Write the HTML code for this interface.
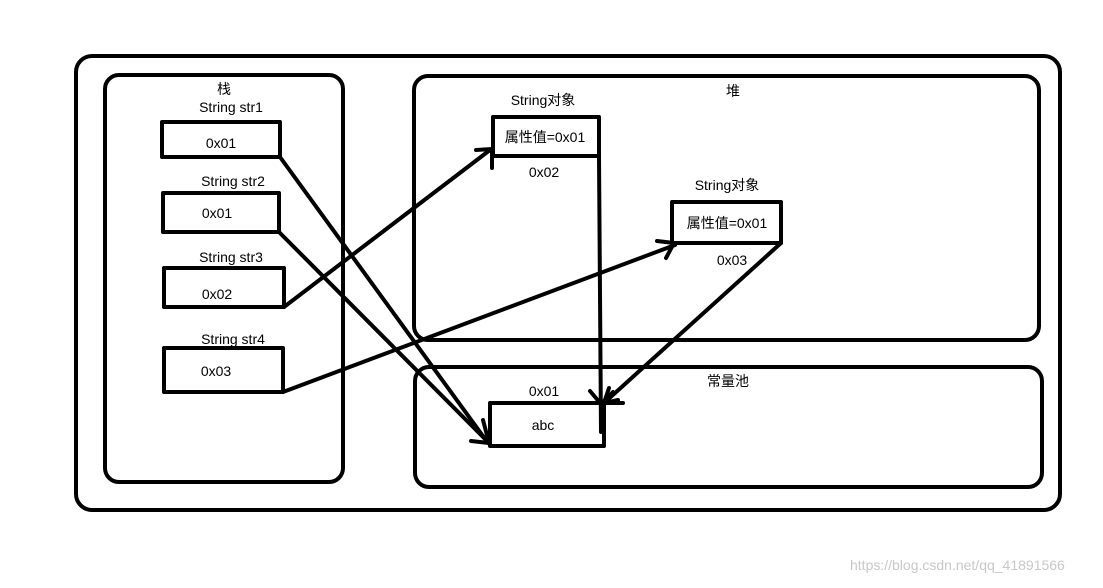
<!DOCTYPE html>
<html><head><meta charset="utf-8"><style>
html,body{margin:0;padding:0;background:#fff;}
svg text{font-family:"Liberation Sans","Noto Sans CJK SC",sans-serif;font-size:14px;fill:#000;}
</style></head><body>
<svg width="1103" height="583" viewBox="0 0 1103 583" xmlns="http://www.w3.org/2000/svg">
<g fill="none" stroke="#000" stroke-width="4" stroke-linecap="round" stroke-linejoin="round">
<rect x="76" y="56" width="984" height="454" rx="16"/>
<rect x="105" y="75" width="238" height="407" rx="14"/>
<rect x="414" y="76" width="625" height="264" rx="14"/>
<rect x="415" y="367" width="627" height="120" rx="14"/>
<rect x="162" y="122" width="118" height="35"/>
<rect x="163" y="193" width="116" height="39"/>
<rect x="164" y="268" width="120" height="39"/>
<rect x="164" y="348" width="119" height="44"/>
<rect x="493" y="117" width="106" height="39"/>
<rect x="672" y="202" width="109" height="41"/>
<rect x="490" y="403" width="114" height="43"/>
<line x1="604" y1="403" x2="623" y2="403"/>
<line x1="280" y1="157" x2="488" y2="443"/>
<line x1="279" y1="232" x2="489" y2="443"/>
<line x1="483" y1="420" x2="489" y2="443"/>
<line x1="471" y1="441" x2="489" y2="443"/>
<line x1="284" y1="307" x2="490" y2="150"/>
<polyline points="476,150 492,149 492,168"/>
<line x1="283" y1="392" x2="675" y2="245"/>
<polyline points="657,241 674,243 666,258"/>
<line x1="599" y1="157" x2="601" y2="432"/>
<polyline points="590,391 601,404 613,392"/>
<line x1="781" y1="243" x2="604" y2="403"/>
<polyline points="609,388 604,403 618,400"/>
</g>
<g text-anchor="middle">
<text x="224" y="94">栈</text>
<text x="231" y="112">String str1</text>
<text x="221" y="148">0x01</text>
<text x="233" y="186">String str2</text>
<text x="217" y="218">0x01</text>
<text x="231" y="262">String str3</text>
<text x="217" y="299">0x02</text>
<text x="233" y="344">String str4</text>
<text x="216" y="376">0x03</text>
<text x="733" y="96">堆</text>
<text x="543" y="105">String对象</text>
<text x="545" y="142">属性值=0x01</text>
<text x="544" y="177">0x02</text>
<text x="727" y="190">String对象</text>
<text x="727" y="228">属性值=0x01</text>
<text x="732" y="265">0x03</text>
<text x="728" y="386">常量池</text>
<text x="544" y="396">0x01</text>
<text x="543" y="430">abc</text>
</g>
<text x="850" y="570" style="font-size:14px;fill:#c8c8c8">https://blog.csdn.net/qq_41891566</text>
</svg>
</body></html>
